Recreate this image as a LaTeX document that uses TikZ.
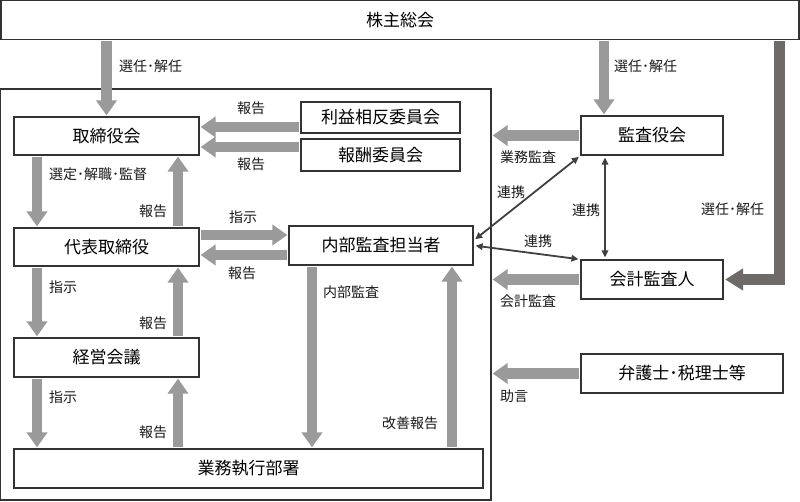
\documentclass[tikz,border=0pt]{standalone}
\usepackage{fontspec}
\setmainfont{Noto Sans CJK JP}
\usetikzlibrary{arrows.meta}

\definecolor{boxline}{HTML}{333333}
\definecolor{arrowgray}{HTML}{9A9A9A}
\definecolor{arrowdark}{HTML}{6E6A68}
\definecolor{linkline}{HTML}{404040}

\tikzset{
  orgbox/.style={draw=boxline, line width=1.2pt, fill=white, inner sep=0pt,
    font=\fontsize{17}{19}\selectfont},
  lbl/.style={anchor=west, inner sep=0pt, text=black!90,
    font=\fontsize{14}{16}\selectfont},
  bigarrow/.style={draw=arrowgray, line width=10.5pt,
    -{Triangle[length=15pt, width=20pt]}, shorten >=1pt, shorten <=1pt},
  darkarrow/.style={draw=arrowdark, line width=11pt, line join=miter,
    -{Triangle[length=18pt, width=21pt]}, shorten >=1.5pt, shorten <=1.5pt},
  linkarrow/.style={draw=linkline, line width=1.8pt,
    {Triangle[length=7pt, width=6.5pt]}-{Triangle[length=7pt, width=6.5pt]},
    shorten >=2pt, shorten <=2pt},
}

\begin{document}
\begin{tikzpicture}[x=1pt, y=-1pt]
    \useasboundingbox (0,0) rectangle (800,502);

    % boxes
    \node[orgbox, minimum width=798pt, minimum height=38.5pt] (kabunushi) at (400,20) {株主総会};
    \node[draw=boxline, line width=1.2pt, minimum width=490.5pt, minimum height=411pt] (frame) at (245.75,294.5) {};

    \node[orgbox, minimum width=185pt, minimum height=38pt] (torishimari) at (106.5,136) {取締役会};
    \node[orgbox, minimum width=159pt, minimum height=31pt] (rieki) at (380.5,117.5) {利益相反委員会};
    \node[orgbox, minimum width=159pt, minimum height=32pt] (hoshu) at (380.5,155) {報酬委員会};
    \node[orgbox, minimum width=185pt, minimum height=38pt] (daihyo) at (106.5,247) {代表取締役};
    \node[orgbox, minimum width=184pt, minimum height=39pt] (naibu) at (381,245.5) {内部監査担当者};
    \node[orgbox, minimum width=185pt, minimum height=39pt] (keiei) at (106.5,357.5) {経営会議};
    \node[orgbox, minimum width=469pt, minimum height=39pt] (gyomu) at (248.5,468.5) {業務執行部署};

    \node[orgbox, minimum width=142pt, minimum height=39pt] (kansayaku) at (652,135.5) {監査役会};
    \node[orgbox, minimum width=142pt, minimum height=39pt] (kaikei) at (652,279.5) {会計監査人};
    \node[orgbox, minimum width=202pt, minimum height=39pt] (bengoshi) at (682,373.5) {弁護士･税理士等};

    % gray arrows
    \coordinate (kansa-in) at ([xshift=-48pt]kansayaku.north);
    \draw[bigarrow] (torishimari.north |- kabunushi.south) -- (torishimari.north);
    \draw[bigarrow] (kansa-in |- kabunushi.south) -- (kansa-in);

    \draw[bigarrow] ([yshift=-9.5pt]rieki.west) -- ([yshift=9pt]torishimari.east);
    \draw[bigarrow] ([yshift=8pt]hoshu.west) -- ([yshift=-11pt]torishimari.east);

    \draw[bigarrow] ([xshift=-69.5pt]torishimari.south) -- ([xshift=-69.5pt]daihyo.north);
    \draw[bigarrow] ([xshift=71.5pt]daihyo.north) -- ([xshift=71.5pt]torishimari.south);
    \draw[bigarrow] ([yshift=12pt]daihyo.east) -- ([yshift=10.5pt]naibu.west);
    \draw[bigarrow] ([yshift=-9.5pt]naibu.west) -- ([yshift=-8pt]daihyo.east);

    \draw[bigarrow] ([xshift=-69.5pt]daihyo.south) -- ([xshift=-69.5pt]keiei.north);
    \draw[bigarrow] ([xshift=71.5pt]keiei.north) -- ([xshift=71.5pt]daihyo.south);
    \draw[bigarrow] ([xshift=-69.5pt]keiei.south) -- ([xshift=-211.5pt]gyomu.north);
    \draw[bigarrow] ([xshift=-70.5pt]gyomu.north) -- ([xshift=71.5pt]keiei.south);

    \draw[bigarrow] ([xshift=-69pt]naibu.south) -- ([xshift=63.5pt]gyomu.north);
    \draw[bigarrow] ([xshift=203.5pt]gyomu.north) -- ([xshift=71pt]naibu.south);

    \draw[bigarrow] (kansayaku.west) -- (kansayaku.west -| frame.east);
    \draw[bigarrow] (kaikei.west) -- (kaikei.west -| frame.east);
    \draw[bigarrow] (bengoshi.west) -- (bengoshi.west -| frame.east);

    % dark arrows
    \draw[darkarrow] ([xshift=379.5pt]kabunushi.south) |- (kaikei.east);
    \draw[linkarrow] ([yshift=5pt]naibu.east) -- (kansayaku.south west);
    \draw[linkarrow] (naibu.east) -- (kaikei.north west);
    \draw[linkarrow] ([xshift=-47pt]kansayaku.south) -- ([xshift=-47pt]kaikei.north);

    % labels
    \node[lbl] (l-sennin1) at (119,66) {選任･解任};
    \node[lbl] (l-sennin2) at (614,66) {選任･解任};
    \node[lbl] (l-sennin3) at (701,209) {選任･解任};
    \node[lbl] (l-hokoku1) at (237,108) {報告};
    \node[lbl] (l-hokoku2) at (237,164) {報告};
    \node[lbl] (l-sentei) at (49,174) {選定･解職･監督};
    \node[lbl] (l-hokoku3) at (139,211) {報告};
    \node[lbl] (l-shiji1) at (229,217) {指示};
    \node[lbl] (l-hokoku4) at (228,273) {報告};
    \node[lbl] (l-shiji2) at (49,287) {指示};
    \node[lbl] (l-hokoku5) at (139,323) {報告};
    \node[lbl] (l-shiji3) at (49,397) {指示};
    \node[lbl] (l-hokoku6) at (139,432) {報告};
    \node[lbl] (l-naibu) at (323,292) {内部監査};
    \node[lbl] (l-kaizen) at (382,423) {改善報告};
    \node[lbl] (l-gyomu) at (500,157) {業務監査};
    \node[lbl] (l-renkei1) at (497,192) {連携};
    \node[lbl] (l-renkei2) at (572,210) {連携};
    \node[lbl] (l-renkei3) at (524,241) {連携};
    \node[lbl] (l-kaikei) at (500,301) {会計監査};
    \node[lbl] (l-jogen) at (500,396) {助言};
\end{tikzpicture}
\end{document}
